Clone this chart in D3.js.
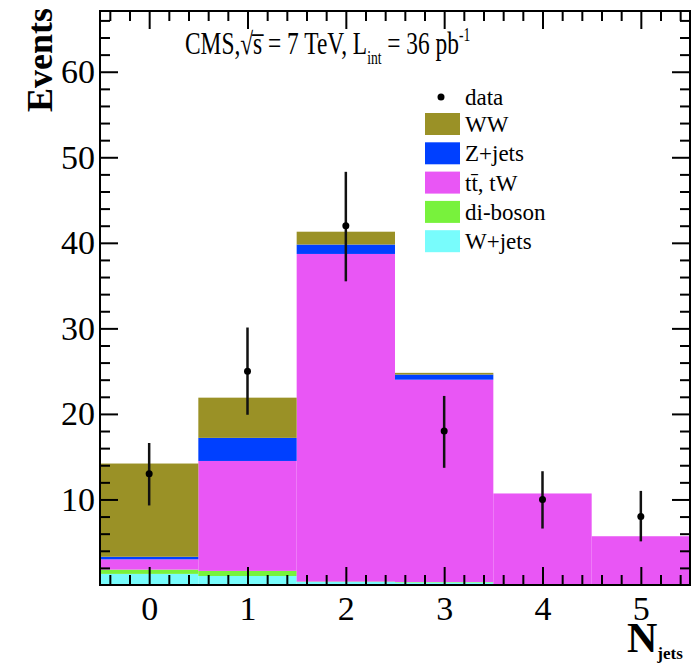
<!DOCTYPE html>
<html>
<head>
<meta charset="utf-8">
<script src="https://cdn.jsdelivr.net/npm/d3@7"></script>
<style>
  body { margin: 0; background: #fff; }
  text { font-family: "Liberation Serif", "DejaVu Serif", serif; fill: #000; }
</style>
</head>
<body>
<svg id="chart" width="700" height="664"></svg>
<script>
// jet multiplicity bins
var bins = [0, 1, 2, 3, 4, 5];

// stacked backgrounds, bottom to top
var wjets   = [1.3, 1.05, 0.35, 0.3, 0, 0];
var diboson = [0.5, 0.6, 0.05, 0.05, 0, 0];
var ttbar   = [1.2, 12.85, 38.3, 23.65, 10.7, 5.7];
var zjets   = [0.3, 2.7, 1.1, 0.6, 0, 0];
var ww      = [10.9, 4.7, 1.5, 0.2, 0, 0];

// observed data with asymmetric errors
var dataY   = [13, 25, 42, 18, 10, 8];
var errLow  = [9.3, 19.9, 35.5, 13.7, 6.6, 5.1];
var errHigh = [16.6, 30.1, 48.3, 22.1, 13.3, 11.0];

var yTicks = [10, 20, 30, 40, 50, 60];

var series = [
  {key: "wjets",   label: "W+jets",   color: "#78fcfc", vals: wjets},
  {key: "diboson", label: "di-boson", color: "#78f23c", vals: diboson},
  {key: "ttbar",   label: "tt\u0304, tW", color: "#e956f5", vals: ttbar},
  {key: "zjets",   label: "Z+jets",   color: "#0040ff", vals: zjets},
  {key: "ww",      label: "WW",       color: "#9a9126", vals: ww}
];

var svg = d3.select("#chart");
var padL = 100, padR = 690, padT = 11, padB = 585;

var x = d3.scaleLinear().domain([-0.5, 5.5]).range([padL, padR]);
var y = d3.scaleLinear().domain([0, 67.1]).range([padB, padT]);

// build rows for d3.stack
var rows = bins.map(function(b, i) {
  var r = {bin: b};
  series.forEach(function(s) { r[s.key] = s.vals[i]; });
  return r;
});
var stacked = d3.stack().keys(series.map(function(s) { return s.key; }))(rows);

var g = svg.append("g");
stacked.forEach(function(layer, li) {
  g.selectAll(null).data(layer).enter().append("rect")
    .attr("x", function(d) { return x(d.data.bin - 0.5); })
    .attr("width", function(d) { return x(d.data.bin + 0.5) - x(d.data.bin - 0.5); })
    .attr("y", function(d) { return y(d[1]); })
    .attr("height", function(d) { return y(d[0]) - y(d[1]); })
    .attr("fill", series[li].color);
});

// axes, ticks inward
var minorY = d3.range(2, 67, 2).filter(function(v) { return v % 10 !== 0; });
var minorX = d3.range(-0.4, 5.5, 0.2).filter(function(v) { return Math.abs(v - Math.round(v)) > 0.01; });

function styleAxis(sel) {
  sel.select(".domain").remove();
  sel.selectAll("line").attr("stroke", "#000").attr("stroke-width", 2);
}

svg.append("g").attr("transform", "translate(" + padL + ",0)")
  .call(d3.axisLeft(y).tickValues(yTicks).tickSizeInner(-18).tickSizeOuter(0).tickPadding(5).tickFormat(d3.format("d")))
  .call(styleAxis)
  .selectAll("text").attr("font-size", 34).style("font-family", "Liberation Serif");
svg.append("g").attr("transform", "translate(" + padL + ",0)")
  .call(d3.axisLeft(y).tickValues(minorY).tickSizeInner(-10).tickSizeOuter(0).tickFormat(""))
  .call(styleAxis);
svg.append("g").attr("transform", "translate(" + padR + ",0)")
  .call(d3.axisRight(y).tickValues(yTicks).tickSizeInner(-18).tickSizeOuter(0).tickFormat(""))
  .call(styleAxis);
svg.append("g").attr("transform", "translate(" + padR + ",0)")
  .call(d3.axisRight(y).tickValues(minorY).tickSizeInner(-10).tickSizeOuter(0).tickFormat(""))
  .call(styleAxis);

svg.append("g").attr("transform", "translate(0," + padB + ")")
  .call(d3.axisBottom(x).tickValues(bins).tickSizeInner(-18).tickSizeOuter(0).tickPadding(11).tickFormat(d3.format("d")))
  .call(styleAxis)
  .selectAll("text").attr("font-size", 34).style("font-family", "Liberation Serif");
svg.append("g").attr("transform", "translate(0," + padB + ")")
  .call(d3.axisBottom(x).tickValues(minorX).tickSizeInner(-10).tickSizeOuter(0).tickFormat(""))
  .call(styleAxis);
svg.append("g").attr("transform", "translate(0," + padT + ")")
  .call(d3.axisTop(x).tickValues(bins).tickSizeInner(-18).tickSizeOuter(0).tickFormat(""))
  .call(styleAxis);
svg.append("g").attr("transform", "translate(0," + padT + ")")
  .call(d3.axisTop(x).tickValues(minorX).tickSizeInner(-10).tickSizeOuter(0).tickFormat(""))
  .call(styleAxis);

// frame
svg.append("rect").attr("x", padL).attr("y", padT)
  .attr("width", padR - padL).attr("height", padB - padT)
  .attr("fill", "none").attr("stroke", "#000").attr("stroke-width", 2);

// data points
var pts = svg.append("g");
pts.selectAll("line").data(bins).enter().append("line")
  .attr("x1", function(d) { return x(d); }).attr("x2", function(d) { return x(d); })
  .attr("y1", function(d, i) { return y(errLow[i]); })
  .attr("y2", function(d, i) { return y(errHigh[i]); })
  .attr("stroke", "#111").attr("stroke-width", 2.5);
pts.selectAll("circle").data(bins).enter().append("circle")
  .attr("cx", function(d) { return x(d); })
  .attr("cy", function(d, i) { return y(dataY[i]); })
  .attr("r", 3.5).attr("fill", "#000");

// legend
var lg = svg.append("g");
lg.append("circle").attr("cx", 441).attr("cy", 97).attr("r", 3.5).attr("fill", "#000");
lg.append("text").attr("x", 465).attr("y", 105).attr("font-size", 23).text("data");
series.slice().reverse().forEach(function(s, i) {
  var cy = 124 + i * 29.3;
  lg.append("rect").attr("x", 425).attr("y", cy - 11).attr("width", 35).attr("height", 22).attr("fill", s.color);
  lg.append("text").attr("x", 465).attr("y", cy + 8).attr("font-size", 23).text(s.label);
});

// title
var t = svg.append("text").attr("transform", "translate(185,54) scale(0.755,1)").attr("font-size", 31);
t.append("tspan").text("CMS,");
t.append("tspan").text("\u221As\u0305 = 7 TeV, L");
t.append("tspan").attr("font-size", 18).attr("dy", 10).text("int");
t.append("tspan").attr("dy", -10).text(" = 36 pb");
t.append("tspan").attr("font-size", 18).attr("dy", -13).text("-1");

// axis titles
svg.append("text").attr("transform", "translate(52,8) rotate(-90)")
  .attr("text-anchor", "end").attr("font-size", 36).attr("font-weight", "bold").text("Events");
var nj = svg.append("text").attr("x", 627).attr("y", 652).attr("font-size", 42).attr("font-weight", "bold");
nj.append("tspan").text("N");
nj.append("tspan").attr("font-size", 17).attr("dy", 7).text("jets");
</script>
</body>
</html>
